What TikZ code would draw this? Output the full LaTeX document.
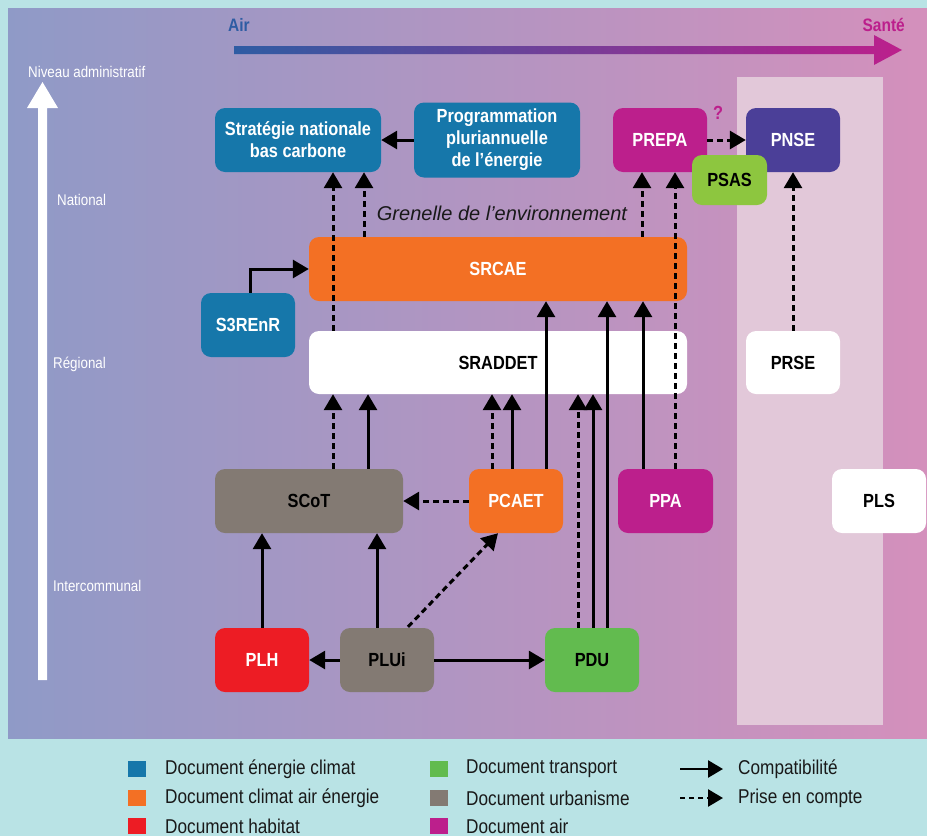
\documentclass[tikz,border=0pt]{standalone}
\usepackage{fontspec}
\setmainfont{Liberation Sans}[FakeStretch=0.86]
\newfontfamily\grfont{Liberation Sans}
\usetikzlibrary{arrows.meta,calc}
\definecolor{bgcyan}{HTML}{B9E3E5}
\definecolor{gradL}{HTML}{8F9AC7}
\definecolor{gradR}{HTML}{D490BC}
\definecolor{panel}{HTML}{E2C8D9}
\definecolor{cblue}{HTML}{1677AA}
\definecolor{corange}{HTML}{F37024}
\definecolor{cred}{HTML}{ED1C24}
\definecolor{cgreen}{HTML}{62BB4F}
\definecolor{clgreen}{HTML}{8DC63F}
\definecolor{cgray}{HTML}{837A73}
\definecolor{cmag}{HTML}{BC1F8C}
\definecolor{cpurple}{HTML}{4B3F98}
\definecolor{airblue}{HTML}{2E5CA3}
\begin{document}
\begin{tikzpicture}[x=1pt,y=-1pt,
  doc/.style={rounded corners=10pt, inner sep=1pt, align=center,
    font=\fontsize{19}{22}\selectfont\bfseries},
  sz/.style 2 args={minimum width=#1, minimum height=#2},
  comp/.style={line width=3pt, -{Triangle[length=16pt,width=18pt]}},
  pec/.style={comp, dash pattern=on 6pt off 4pt},
  side/.style={text=white, font=\fontsize{15.5}{17}\selectfont, anchor=west, inner sep=0pt},
  legtext/.style={font=\fontsize{20}{22}\selectfont, anchor=west, inner sep=0pt, text=black!90},
  legsq/.style={minimum width=18pt, minimum height=16pt, inner sep=0pt}
]
\useasboundingbox (0,0) rectangle (927,836);
\fill[bgcyan] (0,0) rectangle (927,836);
\shade[left color=gradL, right color=gradR] (8,8) rectangle (927,738);
\fill[panel] (737,77) rectangle (883,725);

% Air -> Sante arrow
\shade[left color=airblue, right color=cmag]
  (234,46) -- (874,46) -- (874,35) -- (902,50) -- (874,65) -- (874,54) -- (234,54) -- cycle;
\node[text=airblue, font=\fontsize{18}{20}\selectfont\bfseries, inner sep=0pt] (air) at (239,25) {Air};
\node[text=cmag, font=\fontsize{18}{20}\selectfont\bfseries, inner sep=0pt, anchor=east] (sante) at (905,25) {Santé};

% vertical white arrow
\fill[white] (38,680) -- (38,108) -- (27,108) -- (42.5,82) -- (58,108) -- (47,108) -- (47,680) -- cycle;
\node[side] (niv) at (28,72) {Niveau administratif};
\node[side] (nat) at (57,200) {National};
\node[side] (reg) at (53,364) {Régional};
\node[side] (inter) at (53,586) {Intercommunal};

% nodes
\node[doc, fill=cblue, text=white, sz={166pt}{64pt}] (SNBC) at (298,140) {Stratégie nationale\\bas carbone};
\node[doc, fill=cblue, text=white, sz={166pt}{75pt}] (PPE) at (497,140) {Programmation\\pluriannuelle\\de l’énergie};
\node[doc, fill=cmag, text=white, sz={94pt}{64pt}] (PREPA) at (660,140) {PREPA};
\node[doc, fill=cpurple, text=white, sz={94pt}{64pt}] (PNSE) at (793,140) {PNSE};
\node[doc, fill=clgreen, text=black, sz={75pt}{50pt}] (PSAS) at (729.5,180) {PSAS};
\node[text=cmag, font=\fontsize{19}{22}\selectfont\bfseries, inner sep=0pt] (q) at (718,113) {?};
\node[doc, fill=corange, text=white, sz={378pt}{64pt}] (SRCAE) at (498,269) {SRCAE};
\node[doc, fill=cblue, text=white, sz={94pt}{64pt}] (S3) at (248,325) {S3REnR};
\node[doc, fill=white, text=black, sz={378pt}{63pt}] (SRADDET) at (498,362.5) {SRADDET};
\node[doc, fill=white, text=black, sz={94pt}{63pt}] (PRSE) at (793,362.5) {PRSE};
\node[doc, fill=cgray, text=black, sz={188pt}{64pt}] (SCoT) at (309,501) {SCoT};
\node[doc, fill=corange, text=white, sz={94pt}{64pt}] (PCAET) at (516,501) {PCAET};
\node[doc, fill=cmag, text=white, sz={95pt}{64pt}] (PPA) at (665.5,501) {PPA};
\node[doc, fill=white, text=black, sz={94pt}{64pt}] (PLS) at (879,501) {PLS};
\node[doc, fill=cred, text=white, sz={94pt}{64pt}] (PLH) at (262,660) {PLH};
\node[doc, fill=cgray, text=black, sz={94pt}{64pt}] (PLUi) at (387,660) {PLUi};
\node[doc, fill=cgreen, text=black, sz={94pt}{64pt}] (PDU) at (592,660) {PDU};

\node[font=\grfont\fontsize{20}{22}\selectfont\itshape, text=black!90, inner sep=0pt] (gren) at (502,213) {Grenelle de l’environnement};

% connectors
\draw[comp] (PPE.west) -- (PPE.west -| SNBC.east);
\draw[pec] (PREPA.east) -- (PREPA.east -| PNSE.west);
\draw[comp] ([xshift=2pt]S3.north) |- (SRCAE.west);
\draw[pec] ([xshift=35pt]SNBC.south |- SRADDET.north) -- ([xshift=35pt]SNBC.south);
\draw[pec] ([xshift=66pt]SNBC.south |- SRCAE.north) -- ([xshift=66pt]SNBC.south);
\draw[pec] ([xshift=-18pt]PREPA.south |- SRCAE.north) -- ([xshift=-18pt]PREPA.south);
\draw[pec] ([xshift=9.5pt]PPA.north) -- ([xshift=9.5pt]PPA.north |- PREPA.south);
\draw[comp] ([xshift=-22.5pt]PPA.north) -- ([xshift=-22.5pt]PPA.north |- SRCAE.south);
\draw[comp] ([xshift=30pt]PCAET.north) -- ([xshift=30pt]PCAET.north |- SRCAE.south);
\draw[pec] ([xshift=-24pt]PCAET.north) -- ([xshift=-24pt]PCAET.north |- SRADDET.south);
\draw[comp] ([xshift=-4pt]PCAET.north) -- ([xshift=-4pt]PCAET.north |- SRADDET.south);
\draw[pec] ([xshift=-14pt]PDU.north) -- ([xshift=-14pt]PDU.north |- SRADDET.south);
\draw[comp] ([xshift=1pt]PDU.north) -- ([xshift=1pt]PDU.north |- SRADDET.south);
\draw[comp] ([xshift=15pt]PDU.north) -- ([xshift=15pt]PDU.north |- SRCAE.south);
\draw[pec] ([xshift=24pt]SCoT.north) -- ([xshift=24pt]SCoT.north |- SRADDET.south);
\draw[comp] ([xshift=59pt]SCoT.north) -- ([xshift=59pt]SCoT.north |- SRADDET.south);
\draw[pec] (PCAET.west) -- (PCAET.west -| SCoT.east);
\draw[comp] (PLH.north) -- (PLH.north |- SCoT.south);
\draw[comp] ([xshift=-10pt]PLUi.north) -- ([xshift=-10pt]PLUi.north |- SCoT.south);
\draw[pec] ([xshift=21pt,yshift=1pt]PLUi.north) -- ([xshift=-18pt]PCAET.south);
\draw[comp] (PLUi.west) -- (PLUi.west -| PLH.east);
\draw[comp] (PLUi.east) -- (PLUi.east -| PDU.west);
\draw[pec] (PRSE.north) -- (PRSE.north |- PNSE.south);

% legend
\node[legsq, fill=cblue] (l1) at (137,769) {};
\node[legsq, fill=corange] (l2) at (137,798) {};
\node[legsq, fill=cred] (l3) at (137,826) {};
\node[legsq, fill=cgreen] (l4) at (439,769) {};
\node[legsq, fill=cgray] (l5) at (439,798) {};
\node[legsq, fill=cmag] (l6) at (439,826) {};
\node[legtext] (t1) at (165,769) {Document énergie climat};
\node[legtext] (t2) at (165,798) {Document climat air énergie};
\node[legtext] (t3) at (165,826) {Document habitat};
\node[legtext] (t4) at (466,769) {Document transport};
\node[legtext] (t5) at (466,798) {Document urbanisme};
\node[legtext] (t6) at (466,826) {Document air};
\coordinate (a1) at (680,769);
\coordinate (a1e) at (723,769);
\coordinate (a2) at (680,798);
\coordinate (a2e) at (723,798);
\draw[line width=2.6pt, -{Triangle[length=15pt,width=17pt]}] (a1) -- (a1e);
\draw[line width=2.6pt, dash pattern=on 5pt off 4pt, -{Triangle[length=15pt,width=17pt]}] (a2) -- (a2e);
\node[legtext] (t7) at (738,769) {Compatibilité};
\node[legtext] (t8) at (738,798) {Prise en compte};
\end{tikzpicture}
\end{document}
